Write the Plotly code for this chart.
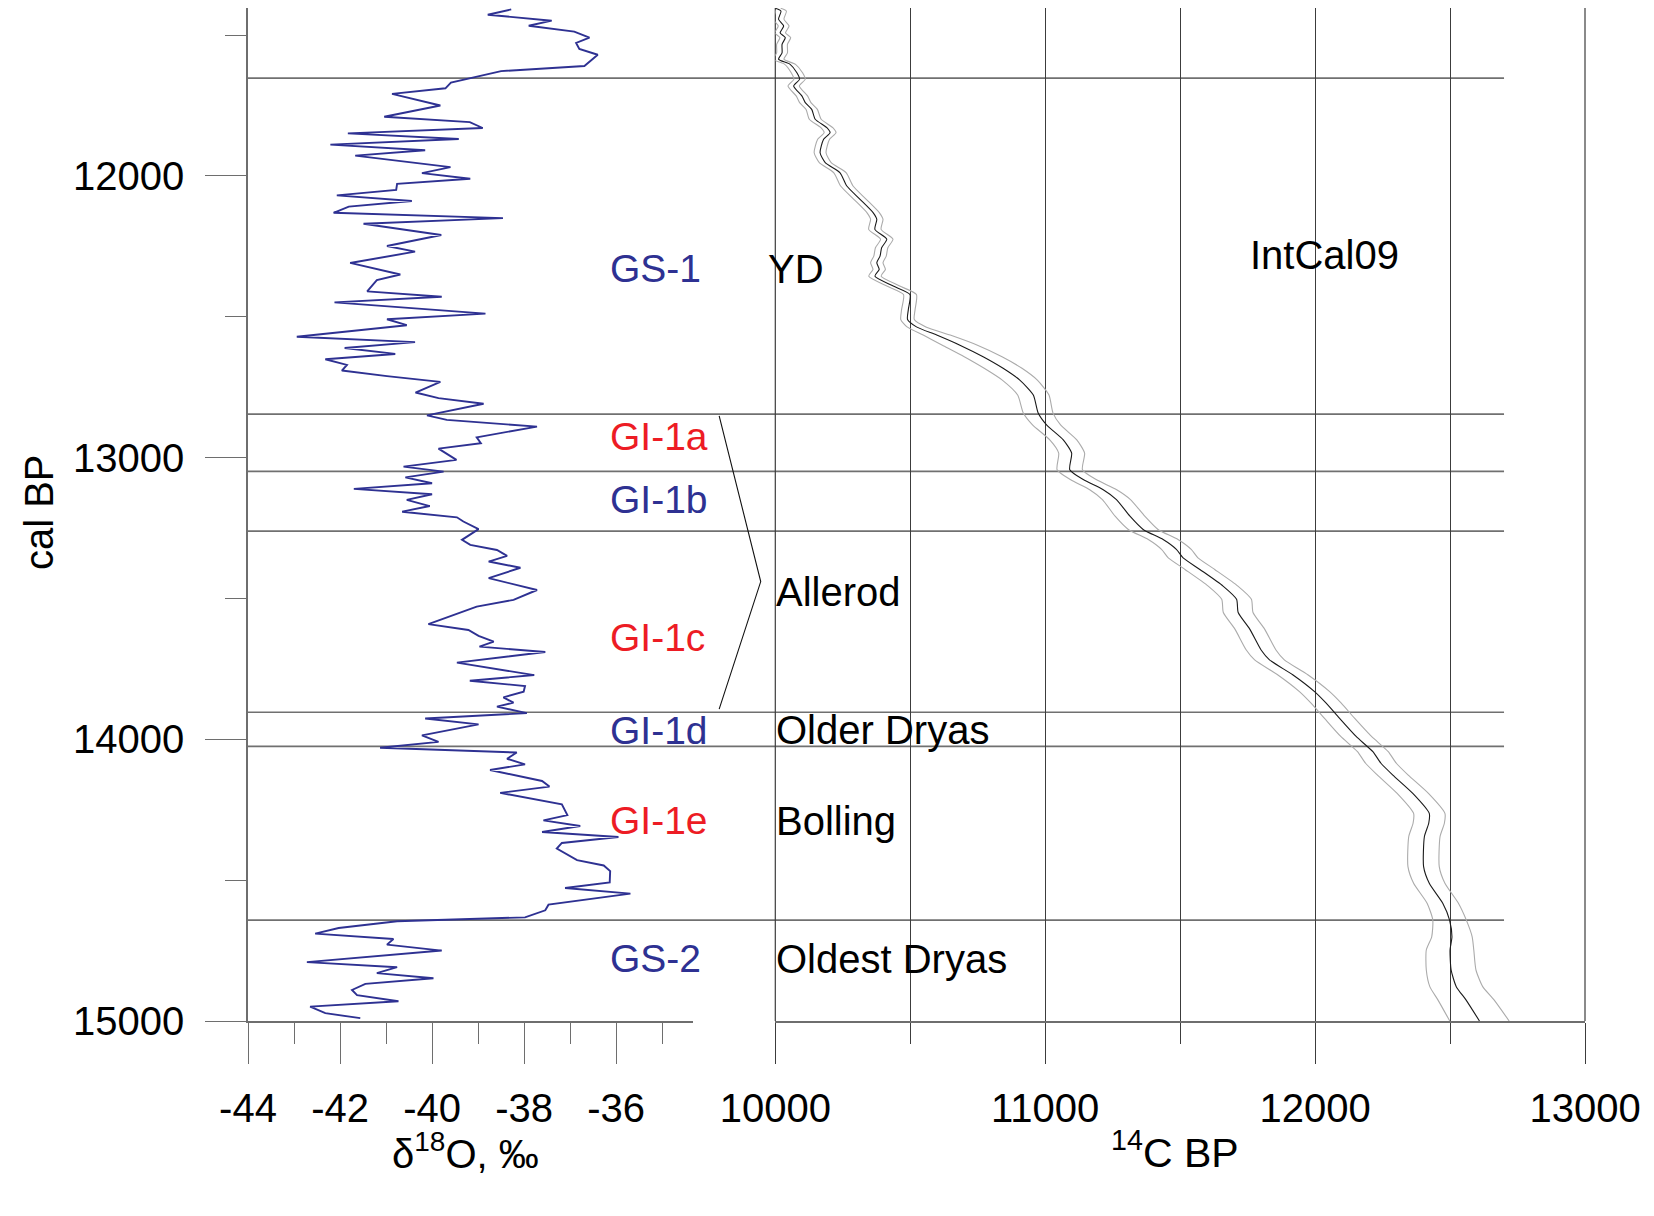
import plotly.graph_objects as go

# ---------------- data ----------------
# NGRIP-type delta18O record (cal BP vs permil)
d18o_age = [11409, 11428, 11449, 11467, 11488, 11509, 11528, 11549, 11570, 11610,
            11628, 11669, 11689, 11709, 11750, 11790, 11809, 11830, 11849, 11869,
            11889, 11909, 11928, 11969, 11990, 12010, 12028, 12050, 12069, 12089,
            12109, 12131, 12150, 12170, 12210, 12249, 12269, 12309, 12350, 12370,
            12410, 12429, 12449, 12489, 12509, 12530, 12571, 12590, 12611, 12632,
            12651, 12671, 12691, 12711, 12731, 12769, 12789, 12809, 12850, 12866,
            12890, 12928, 12949, 12968, 13008, 13032, 13050, 13070, 13091, 13111,
            13130, 13150, 13172, 13192, 13212, 13227, 13254, 13292, 13310, 13328,
            13349, 13369, 13391, 13428, 13470, 13505, 13529, 13591, 13612, 13633,
            13653, 13671, 13690, 13728, 13772, 13792, 13811, 13831, 13851, 13870,
            13884, 13907, 13926, 13947, 13986, 14009, 14030, 14047, 14069, 14089,
            14109, 14148, 14168, 14190, 14231, 14269, 14288, 14308, 14329, 14347,
            14368, 14388, 14429, 14448, 14468, 14508, 14528, 14548, 14587, 14607,
            14632, 14646, 14670, 14690, 14709, 14729, 14750, 14791, 14809, 14830,
            14848, 14868, 14890, 14908, 14930, 14949, 14972, 14990]
d18o = [-38.28, -38.79, -37.40, -37.90, -36.91, -36.58, -36.87, -36.80, -36.40, -36.69,
        -38.50, -39.59, -39.71, -40.87, -39.82, -41.04, -39.18, -38.90, -41.83, -39.42,
        -42.21, -40.15, -41.67, -39.60, -40.22, -39.17, -40.76, -40.78, -42.07, -40.44,
        -41.81, -42.14, -38.46, -41.49, -39.80, -40.98, -40.37, -41.78, -40.69, -41.20,
        -41.41, -39.79, -42.12, -38.84, -40.98, -40.55, -42.94, -40.37, -41.90, -40.80,
        -42.32, -41.85, -41.96, -40.98, -39.82, -40.36, -39.86, -38.88, -40.11, -39.68,
        -37.72, -39.03, -38.94, -39.86, -39.47, -40.62, -39.75, -40.58, -40.00, -41.70,
        -40.00, -40.55, -40.05, -40.65, -39.46, -39.32, -38.99, -39.35, -39.17, -38.59,
        -38.37, -38.77, -38.08, -38.77, -37.72, -38.23, -39.03, -40.08, -39.21, -38.99,
        -38.66, -38.97, -37.54, -39.46, -37.78, -39.18, -37.98, -38.01, -38.45, -38.23,
        -38.59, -37.94, -40.15, -38.99, -40.22, -39.86, -41.13, -38.16, -38.37, -37.98,
        -38.74, -37.61, -37.45, -38.52, -37.18, -37.06, -37.58, -36.78, -37.61, -35.95,
        -37.18, -37.29, -36.85, -36.27, -36.13, -36.14, -37.11, -35.69, -37.47, -37.54,
        -37.98, -40.76, -42.03, -42.54, -40.84, -40.98, -39.79, -42.72, -40.76, -41.20,
        -39.97, -41.45, -41.74, -41.63, -40.73, -42.65, -42.32, -41.56]

# IntCal09 calibration curve (cal BP, 14C BP, 1 sigma)
intcal_age = [11405, 11415, 11444, 11468, 11492, 11509, 11533, 11563, 11586, 11604,
              11634, 11657, 11681, 11717, 11740, 11764, 11799, 11829, 11847, 11870,
              11918, 11953, 11989, 12036, 12083, 12131, 12154, 12190, 12225, 12255,
              12285, 12308, 12332, 12356, 12391, 12421, 12474, 12510, 12536, 12565,
              12601, 12642, 12683, 12725, 12778, 12842, 12884, 12937, 12984, 13043,
              13078, 13114, 13149, 13208, 13255, 13291, 13326, 13356, 13397, 13456,
              13503, 13550, 13609, 13683, 13718, 13771, 13831, 13872, 13925, 13990,
              14044, 14085, 14127, 14192, 14263, 14298, 14345, 14452, 14511, 14582,
              14641, 14701, 14748, 14819, 14878, 14925, 15000]
intcal_c14 = [10000, 10021, 10012, 10031, 10018, 10037, 10025, 10025, 10012, 10055,
              10080, 10090, 10068, 10099, 10111, 10135, 10148, 10191, 10203, 10179,
              10166, 10185, 10240, 10265, 10314, 10363, 10376, 10369, 10413, 10394,
              10388, 10376, 10385, 10369, 10437, 10499, 10493, 10490, 10523, 10598,
              10684, 10770, 10844, 10906, 10956, 10974, 11005, 11067, 11098, 11091,
              11141, 11215, 11264, 11314, 11363, 11437, 11486, 11511, 11573, 11659,
              11709, 11715, 11758, 11800, 11831, 11917, 11998, 12041, 12090, 12152,
              12214, 12244, 12288, 12362, 12423, 12421, 12405, 12402, 12423, 12473,
              12498, 12507, 12500, 12504, 12523, 12559, 12609]
intcal_sigma = [20, 20, 20, 20, 20, 20, 20, 20, 20, 20,
                21, 21, 21, 21, 21, 21, 22, 22, 22, 22,
                22, 22, 23, 23, 23, 23, 23, 23, 23, 23,
                23, 23, 23, 23, 24, 24, 25, 25, 35, 50,
                65, 70, 70, 65, 58, 55, 52, 50, 48, 47,
                48, 50, 52, 55, 55, 55, 55, 55, 55, 55,
                55, 55, 55, 55, 55, 56, 56, 56, 56, 57,
                57, 57, 57, 58, 58, 58, 58, 58, 58, 58,
                62, 75, 88, 92, 98, 104, 110]

# Greenland event stratigraphy boundaries (cal BP)
boundaries = [11653, 12846, 13049, 13261, 13904, 14025, 14642]

# Event labels (left: INTIMATE events, right: classical names)
left_labels = ["GS-1", "GI-1a", "GI-1b", "GI-1c", "GI-1d", "GI-1e", "GS-2"]
left_label_age = [12329, 12926, 13150, 13637, 13967, 14289, 14779]
left_label_kind = ["stadial", "interstadial", "stadial", "interstadial",
                   "stadial", "interstadial", "stadial"]
right_labels = ["YD", "Allerod", "Older Dryas", "Bolling", "Oldest Dryas"]
right_label_age = [12329, 13476, 13967, 14289, 14779]

# ticks
y_tickvals = [12000, 13000, 14000, 15000]
y_minor = [11500, 12500, 13500, 14500]
x1_tickvals = [-44, -42, -40, -38, -36]
x1_minor = [-43, -41, -39, -37, -35]
x2_tickvals = [10000, 11000, 12000, 13000]
x2_minor = [10500, 11500, 12500]

# ---------------- layout geometry ----------------
# (the page body adds an 8 px margin around the figure)
W, H = 1638, 1200
ML, MR, MT, MB = 240, 61, 0, 187
PW = W - ML - MR
PH = H - MT - MB
X1_RANGE = [-44, -34.33]
X2_RANGE = [10000, 13000]
x1_dom = [0, 445.0 / PW]
x2_dom = [527.3 / PW, 1]
Y_RANGE = [15000, 11404]


def x2_paper(v):
    return x2_dom[0] + (v - X2_RANGE[0]) / (X2_RANGE[1] - X2_RANGE[0]) * (x2_dom[1] - x2_dom[0])


def py_paper(py_fig):
    return (MT + PH - py_fig) / PH


FONT = "Arial, Liberation Sans, Helvetica, sans-serif"
FS_LAB = 39
FS_LAB_R = 40
FS_TICK = 40
FS_TITLE = 40
BLUE = "rgb(46,49,146)"
RED = "rgb(237,28,36)"
AXC = "#6e6e6e"
GRIDC = "#3c3c3c"
HLC = "#707070"

fig = go.Figure()

fig.add_trace(go.Scatter(x=d18o, y=d18o_age, xaxis="x", yaxis="y", mode="lines",
                         line=dict(color=BLUE, width=1.9), hoverinfo="skip",
                         showlegend=False))

lower = [c - s for c, s in zip(intcal_c14, intcal_sigma)]
upper = [c + s for c, s in zip(intcal_c14, intcal_sigma)]
for arr, col, w in [(lower, "#ababab", 1.1), (upper, "#ababab", 1.1),
                    (intcal_c14, "#1a1a1a", 1.1)]:
    fig.add_trace(go.Scatter(x=arr, y=intcal_age, xaxis="x2", yaxis="y", mode="lines",
                             line=dict(color=col, width=w, shape="spline", smoothing=0.6),
                             hoverinfo="skip", showlegend=False))

shapes = []
for b in boundaries:
    shapes.append(dict(type="line", xref="paper", yref="y", x0=0, x1=x2_paper(12700),
                       y0=b, y1=b, line=dict(color=HLC, width=1.7), layer="between"))
# full-height grid lines at the ends of the 14C axis
for v in (X2_RANGE[0], X2_RANGE[1]):
    shapes.append(dict(type="line", xref="paper", yref="paper", x0=x2_paper(v), x1=x2_paper(v),
                       y0=0, y1=1, line=dict(color=GRIDC, width=1.2), layer="between"))

# bracket for Allerod (GI-1a ... GI-1c)
bx0, bx1 = x2_paper(9792), x2_paper(9946)
shapes.append(dict(type="path", xref="paper", yref="y",
                   path=f"M {bx0},{12852} L {bx1},{13440} L {bx0},{13893}",
                   line=dict(color="#111111", width=1.1)))

annotations = []
for txt, age, kind in zip(left_labels, left_label_age, left_label_kind):
    annotations.append(dict(text=txt, xref="x", yref="y", x=-36.17, y=age,
                            xanchor="left", yanchor="middle", showarrow=False,
                            font=dict(family=FONT, size=FS_LAB,
                                      color=RED if kind == "interstadial" else BLUE)))
for txt, age in zip(right_labels, right_label_age):
    annotations.append(dict(text=txt, xref="paper", yref="y",
                            x=x2_paper(9966 if txt == "YD" else 9994), y=age,
                            xanchor="left", yanchor="middle", showarrow=False,
                            font=dict(family=FONT, size=FS_LAB_R, color="black")))
annotations.append(dict(text="IntCal09", xref="x2", yref="y", x=11750, y=12282,
                        xanchor="left", yanchor="middle", showarrow=False,
                        font=dict(family=FONT, size=FS_LAB_R, color="black")))
# axis titles
annotations.append(dict(text="\u03b4<sup>18</sup>O, \u2030", xref="x", yref="paper",
                        x=-39.28, y=py_paper(1169.5), xanchor="center",
                        yanchor="bottom", showarrow=False,
                        font=dict(family=FONT, size=FS_TITLE, color="black")))
annotations.append(dict(text="<sup>14</sup>C BP", xref="x2", yref="paper",
                        x=11480, y=py_paper(1169.5), xanchor="center",
                        yanchor="bottom", showarrow=False,
                        font=dict(family=FONT, size=41, color="black")))
annotations.append(dict(text="cal BP", xref="paper", yref="paper",
                        x=(30.4 - ML) / PW, y=py_paper(503.7), textangle=-90,
                        xanchor="center", yanchor="middle", showarrow=False,
                        font=dict(family=FONT, size=40, color="black")))

tickfont = dict(family=FONT, size=FS_TICK, color="black")

fig.update_layout(
    width=W, height=H,
    margin=dict(l=ML, r=MR, t=MT, b=MB, autoexpand=False),
    paper_bgcolor="white", plot_bgcolor="white",
    showlegend=False,
    shapes=shapes, annotations=annotations,
    xaxis=dict(domain=x1_dom, range=X1_RANGE, anchor="y",
               tickvals=x1_tickvals, ticktext=[str(v) for v in x1_tickvals],
               ticks="outside", ticklen=41, tickwidth=1.3, tickcolor=AXC,
               minor=dict(tickvals=x1_minor, ticks="outside", ticklen=21,
                          tickwidth=1.3, tickcolor=AXC, showgrid=False),
               showline=True, linecolor=AXC, linewidth=1.6,
               showgrid=False, zeroline=False, tickfont=tickfont,
               ticklabelstandoff=10),
    xaxis2=dict(domain=x2_dom, range=X2_RANGE, anchor="y",
                tickvals=x2_tickvals, ticktext=[str(v) for v in x2_tickvals],
                ticks="outside", ticklen=41, tickwidth=1.2, tickcolor=GRIDC,
                minor=dict(tickvals=x2_minor, ticks="outside", ticklen=21,
                           tickwidth=1.2, tickcolor=GRIDC, showgrid=True,
                           gridcolor=GRIDC, gridwidth=1.2),
                showline=True, linecolor=AXC, linewidth=1.6,
                showgrid=True, gridcolor=GRIDC, gridwidth=1.2,
                zeroline=False, tickfont=tickfont, ticklabelstandoff=10),
    yaxis=dict(domain=[0, 1], range=Y_RANGE, anchor="x",
               tickvals=y_tickvals, ticktext=[str(v) for v in y_tickvals],
               ticks="outside", ticklen=41, tickwidth=1.3, tickcolor=AXC,
               minor=dict(tickvals=y_minor, ticks="outside", ticklen=21,
                          tickwidth=1.3, tickcolor=AXC, showgrid=False),
               showline=True, linecolor=AXC, linewidth=1.6,
               showgrid=False, zeroline=False, tickfont=tickfont,
               ticklabelstandoff=13),
)

fig.write_html("out.html")
